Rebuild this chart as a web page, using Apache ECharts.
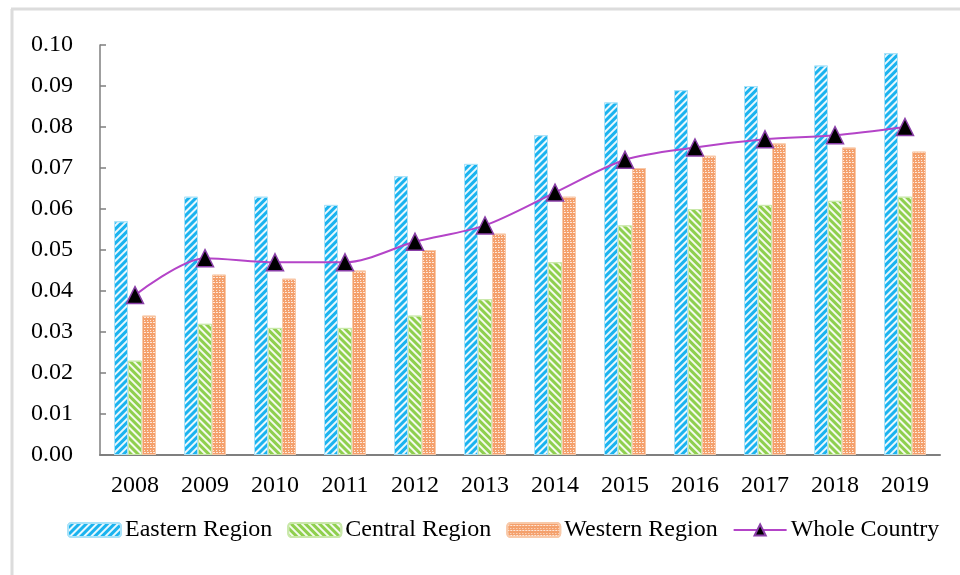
<!DOCTYPE html>
<html><head><meta charset="utf-8">
<script src="https://cdn.jsdelivr.net/npm/echarts@6/dist/echarts.min.js"></script>
<style>html,body{margin:0;padding:0;background:#fff}#c{width:960px;height:575px}</style>
</head><body><div id="c"></div>
<script>
const years = ['2008','2009','2010','2011','2012','2013','2014','2015','2016','2017','2018','2019'];
const eastern = [0.057,0.063,0.063,0.061,0.068,0.071,0.078,0.086,0.089,0.090,0.095,0.098];
const central = [0.023,0.032,0.031,0.031,0.034,0.038,0.047,0.056,0.060,0.061,0.062,0.063];
const western = [0.034,0.044,0.043,0.045,0.050,0.054,0.063,0.070,0.073,0.076,0.075,0.074];
const whole   = [0.039,0.048,0.047,0.047,0.052,0.056,0.064,0.072,0.075,0.077,0.078,0.080];

const font = 'Liberation Serif';
const chart = echarts.init(document.getElementById('c'));
chart.setOption({
  animation:false,
  textStyle:{fontFamily:font},
  graphic:[
    {type:'line',shape:{x1:11,y1:9,x2:960,y2:9},style:{stroke:'#dcdcdc',lineWidth:3}},
    {type:'line',shape:{x1:12,y1:9,x2:12,y2:575},style:{stroke:'#dcdcdc',lineWidth:3}}
  ],
  grid:{left:100,right:20,top:45,bottom:120},
  legend:{
    left:62, top:513, itemWidth:53, itemHeight:14, itemGap:15,
    textStyle:{fontFamily:font,fontSize:24,color:'#000',padding:[0,0,0,-1]},
    data:['Eastern Region','Central Region','Western Region','Whole Country']
  },
  xAxis:{
    type:'category', data:years,
    axisLine:{lineStyle:{color:'#7f7f7f',width:2}},
    axisTick:{show:false},
    axisLabel:{fontFamily:font,fontSize:24,color:'#000',margin:19}
  },
  yAxis:{
    type:'value', min:0, max:0.1, interval:0.01,
    axisLine:{show:true,lineStyle:{color:'#7f7f7f',width:1.5}},
    axisTick:{show:true,inside:true,length:6,lineStyle:{color:'#7f7f7f',width:1.5}},
    splitLine:{show:false},
    axisLabel:{fontFamily:font,fontSize:24,color:'#000',margin:27,formatter:v=>v.toFixed(2)}
  },
  series:[
    {name:'Eastern Region',type:'bar',data:eastern,barWidth:14,barGap:'0%',
     itemStyle:{color:'#1ab3ef',borderColor:'#a9e2f8',borderWidth:1,
       decal:{symbol:'rect',symbolSize:1,color:'rgba(255,255,255,0.9)',dashArrayX:[1,0],dashArrayY:[2,3],rotation:-Math.PI/4}}},
    {name:'Central Region',type:'bar',data:central,barWidth:14,barGap:'0%',
     itemStyle:{color:'#8fcf4e',borderColor:'#c9e8a9',borderWidth:1,
       decal:{symbol:'rect',symbolSize:1,color:'rgba(255,255,255,0.9)',dashArrayX:[1,0],dashArrayY:[2,3],rotation:Math.PI/4}}},
    {name:'Western Region',type:'bar',data:western,barWidth:14,barGap:'0%',
     itemStyle:{color:'#f4a06c',borderColor:'#f8c9a9',borderWidth:1,
       decal:{symbol:'rect',symbolSize:0.8,color:'rgba(255,255,255,0.95)',dashArrayX:[[1,2],[2,1]],dashArrayY:[1,1,1,2]}}},
    {name:'Whole Country',type:'line',data:whole,smooth:0.3,
     symbol:'triangle',symbolSize:17,
     lineStyle:{color:'#b444c8',width:2},
     itemStyle:{color:'#000',borderColor:'#8a3fa8',borderWidth:1.5}}
  ]
});
</script></body></html>
